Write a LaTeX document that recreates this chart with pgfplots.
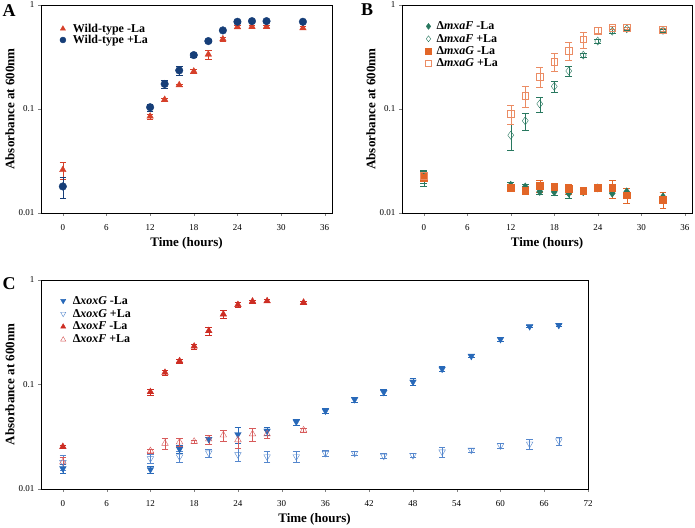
\documentclass[border=0pt]{standalone}
\usepackage{fontspec}
\setmainfont{Liberation Serif}
\usepackage{pgfplots}
\pgfplotsset{compat=1.18}
\definecolor{wtred}{RGB}{214,64,42}
\definecolor{wtblue}{RGB}{22,62,120}
\definecolor{fgreen}{RGB}{40,120,95}
\definecolor{gorange}{RGB}{226,102,40}
\definecolor{gorangel}{RGB}{235,140,100}
\definecolor{xblue}{RGB}{40,105,185}
\definecolor{xbluel}{RGB}{85,135,205}
\definecolor{xred}{RGB}{205,45,35}
\definecolor{xredl}{RGB}{215,90,90}
\begin{document}
\begin{tikzpicture}
\useasboundingbox (0pt,0pt) rectangle (695pt,527pt);
% Panel A
\begin{axis}[at={(41pt,314pt)}, anchor=south west, width=291pt, height=208pt,
  scale only axis, ymode=log, ymin=0.01, ymax=1,
  ytick={0.01,0.1,1}, yticklabels={0.01,0.1,1}, yminorticks=false,
  tick align=outside, tick pos=left, major tick length=3pt,
  axis line style={line width=0.8pt},
  ticklabel style={font=\fontsize{9}{10}\selectfont},
  xticklabel style={yshift=-5pt},
  /pgf/number format/assume math mode=true,
  xlabel={Time (hours)}, ylabel={Absorbance at 600nm},
  label style={font=\bfseries\fontsize{13}{14}\selectfont},
  xlabel style={at={(axis description cs:0.5,0)}, anchor=center, yshift=-30pt},
  ylabel style={at={(axis description cs:0,0.5)}, anchor=center, yshift=31pt},
  legend style={draw=none, fill=none, font=\bfseries\fontsize{12}{13}\selectfont, anchor=north west,
      at={(axis description cs:0.054,0.93)}, row sep=-2.5pt, column sep=5pt},
  legend image post style={mark size=3pt},
  legend cell align=left,
  xmin=-3, xmax=37, xtick={0,6,...,36}]
\addplot[only marks, color=wtred, mark=triangle*, mark size=3.8pt,
  error bars/.cd, y dir=both, y explicit, error mark options={rotate=90, mark size=3.3pt}]
 table[x=t,y=v,y error=e]{
t v e
0 0.026 0.005
12 0.085 0.005
14 0.123 0.004
16 0.170 0.004
18 0.230 0.010
20 0.335 0.035
22 0.470 0.020
24 0.615 0.020
26 0.620 0.020
28 0.620 0.020
33 0.600 0.020
};
\addlegendentry{Wild-type -La}
\addplot[only marks, color=wtblue, mark=*, mark size=3.8pt,
  error bars/.cd, y dir=both, y explicit, error mark options={rotate=90, mark size=3.3pt}]
 table[x=t,y=v,y error=e]{
t v e
0 0.018 0.004
12 0.104 0.008
14 0.174 0.015
16 0.235 0.025
18 0.330 0.012
20 0.450 0.015
22 0.570 0.020
24 0.690 0.020
26 0.700 0.020
28 0.700 0.020
33 0.690 0.020
};
\addlegendentry{Wild-type +La}
\end{axis}
\node[font=\bfseries\fontsize{18}{18}\selectfont] at (9pt,516pt) {A};
% Panel B
\begin{axis}[at={(402pt,314pt)}, anchor=south west, width=290pt, height=208pt,
  scale only axis, ymode=log, ymin=0.01, ymax=1,
  ytick={0.01,0.1,1}, yticklabels={0.01,0.1,1}, yminorticks=false,
  tick align=outside, tick pos=left, major tick length=3pt,
  axis line style={line width=0.8pt},
  ticklabel style={font=\fontsize{9}{10}\selectfont},
  xticklabel style={yshift=-5pt},
  /pgf/number format/assume math mode=true,
  xlabel={Time (hours)}, ylabel={Absorbance at 600nm},
  label style={font=\bfseries\fontsize{13}{14}\selectfont},
  xlabel style={at={(axis description cs:0.5,0)}, anchor=center, yshift=-30pt},
  ylabel style={at={(axis description cs:0,0.5)}, anchor=center, yshift=31pt},
  legend style={draw=none, fill=none, font=\bfseries\fontsize{12}{13}\selectfont, anchor=north west,
      at={(axis description cs:0.07,0.94)}, row sep=-1pt, column sep=3pt},
  legend image post style={mark size=3pt},
  legend cell align=left,
  xmin=-3, xmax=37, xtick={0,6,...,36}]
\addplot[only marks, color=fgreen, mark=diamond*, mark size=4pt,
  error bars/.cd, y dir=both, y explicit, error mark options={rotate=90, mark size=3.3pt}]
 table[x=t,y=v,y error=e]{
t v e
0 0.0222 0.003
12 0.0185 0.0012
14 0.0178 0.0012
16 0.0161 0.0010
18 0.0160 0.0012
20 0.0155 0.0015
22 0.0160 0.0008
24 0.0174 0.0010
26 0.0155 0.0015
28 0.0160 0.0012
33 0.0143 0.0015
};
\addlegendentry{Δ\textit{mxaF} -La}
\addplot[only marks, color=fgreen, mark=diamond, mark size=4pt, mark options={fill=white},
  error bars/.cd, y dir=both, y explicit, error mark options={rotate=90, mark size=3.3pt}]
 table[x=t,y=v,y error=e]{
t v e
0 0.022 0.004
12 0.056 0.016
14 0.077 0.014
16 0.112 0.018
18 0.165 0.020
20 0.232 0.025
22 0.330 0.012
24 0.450 0.020
26 0.560 0.020
28 0.590 0.020
33 0.570 0.020
};
\addlegendentry{Δ\textit{mxaF} +La}
\addplot[only marks, color=gorange, mark=square*, mark size=3.4pt,
  error bars/.cd, y dir=both, y explicit, error mark options={rotate=90, mark size=3.3pt}]
 table[x=t,y=v,y error=e]{
t v e
0 0.0220 0.002
12 0.0176 0.0015
14 0.0165 0.0015
16 0.0182 0.0025
18 0.0178 0.0010
20 0.0170 0.0020
22 0.0165 0.0012
24 0.0174 0.0010
26 0.0174 0.0035
28 0.0148 0.0025
33 0.0135 0.0025
};
\addlegendentry{Δ\textit{mxaG} -La}
\addplot[only marks, color=gorangel, mark=square, mark size=3.4pt, mark options={fill=white},
  error bars/.cd, y dir=both, y explicit, error mark options={rotate=90, mark size=3.3pt}]
 table[x=t,y=v,y error=e]{
t v e
0 0.0227 0.002
12 0.090 0.018
14 0.135 0.030
16 0.206 0.045
18 0.287 0.055
20 0.366 0.070
22 0.468 0.080
24 0.570 0.040
26 0.610 0.020
28 0.600 0.015
33 0.580 0.015
};
\addlegendentry{Δ\textit{mxaG} +La}
\end{axis}
\node[font=\bfseries\fontsize{18}{18}\selectfont] at (367pt,517pt) {B};
% Panel C
\begin{axis}[at={(41pt,38pt)}, anchor=south west, width=547pt, height=209pt,
  scale only axis, ymode=log, ymin=0.01, ymax=1,
  ytick={0.01,0.1,1}, yticklabels={0.01,0.1,1}, yminorticks=false,
  tick align=outside, tick pos=left, major tick length=3pt,
  axis line style={line width=0.8pt},
  ticklabel style={font=\fontsize{9}{10}\selectfont},
  xticklabel style={yshift=-5pt},
  /pgf/number format/assume math mode=true,
  xlabel={Time (hours)}, ylabel={Absorbance at 600nm},
  label style={font=\bfseries\fontsize{13}{14}\selectfont},
  xlabel style={at={(axis description cs:0.5,0)}, anchor=center, yshift=-30pt},
  ylabel style={at={(axis description cs:0,0.5)}, anchor=center, yshift=31pt},
  legend style={draw=none, fill=none, font=\bfseries\fontsize{12}{13}\selectfont, anchor=north west,
      at={(axis description cs:0.030,0.943)}, row sep=-0.5pt, column sep=5pt},
  legend image post style={mark size=3pt},
  legend cell align=left,
  xmin=-3, xmax=72, xtick={0,6,...,72}]
\addplot[only marks, color=xblue, mark=triangle*, mark size=3.8pt, mark options={rotate=180},
  error bars/.cd, y dir=both, y explicit, error mark options={rotate=90, mark size=3.3pt}]
 table[x=t,y=v,y error=e]{
t v e
0 0.0157 0.0015
12 0.0154 0.0012
16 0.0241 0.0020
20 0.0300 0.0030
24 0.0333 0.0060
28 0.0360 0.0030
32 0.0440 0.0030
36 0.0560 0.0030
40 0.0720 0.0040
44 0.0845 0.0050
48 0.1060 0.0080
52 0.1410 0.0080
56 0.1870 0.0060
60 0.2710 0.0100
64 0.3600 0.0100
68 0.3700 0.0100
};
\addlegendentry{Δ\textit{xoxG} -La}
\addplot[only marks, color=xbluel, mark=triangle, mark size=3.8pt, mark options={rotate=180, fill=white},
  error bars/.cd, y dir=both, y explicit, error mark options={rotate=90, mark size=3.3pt}]
 table[x=t,y=v,y error=e]{
t v e
0 0.0180 0.003
12 0.0196 0.002
16 0.0204 0.0025
20 0.0222 0.002
24 0.0214 0.003
28 0.0204 0.0025
32 0.0204 0.0025
36 0.0220 0.0015
40 0.0220 0.0010
44 0.0207 0.0012
48 0.0210 0.0008
52 0.0227 0.0025
56 0.0236 0.0010
60 0.0260 0.0015
64 0.0270 0.0030
68 0.0290 0.0025
};
\addlegendentry{Δ\textit{xoxG} +La}
\addplot[only marks, color=xred, mark=triangle*, mark size=3.8pt,
  error bars/.cd, y dir=both, y explicit, error mark options={rotate=90, mark size=3.3pt}]
 table[x=t,y=v,y error=e]{
t v e
0 0.0254 0.0010
12 0.085 0.006
14 0.130 0.008
16 0.168 0.008
18 0.232 0.012
20 0.326 0.030
22 0.470 0.040
24 0.580 0.030
26 0.625 0.020
28 0.630 0.020
33 0.610 0.020
};
\addlegendentry{Δ\textit{xoxF} -La}
\addplot[only marks, color=xredl, mark=triangle, mark size=3.8pt, mark options={fill=white},
  error bars/.cd, y dir=both, y explicit, error mark options={rotate=90, mark size=3.3pt}]
 table[x=t,y=v,y error=e]{
t v e
0 0.0181 0.002
12 0.0232 0.001
14 0.0273 0.003
16 0.0281 0.0025
18 0.0285 0.001
20 0.0300 0.003
22 0.0328 0.004
24 0.0295 0.005
26 0.0336 0.005
28 0.0336 0.003
33 0.0366 0.002
};
\addlegendentry{Δ\textit{xoxF} +La}
\end{axis}
\node[font=\bfseries\fontsize{18}{18}\selectfont] at (9pt,243pt) {C};
\end{tikzpicture}
\end{document}
